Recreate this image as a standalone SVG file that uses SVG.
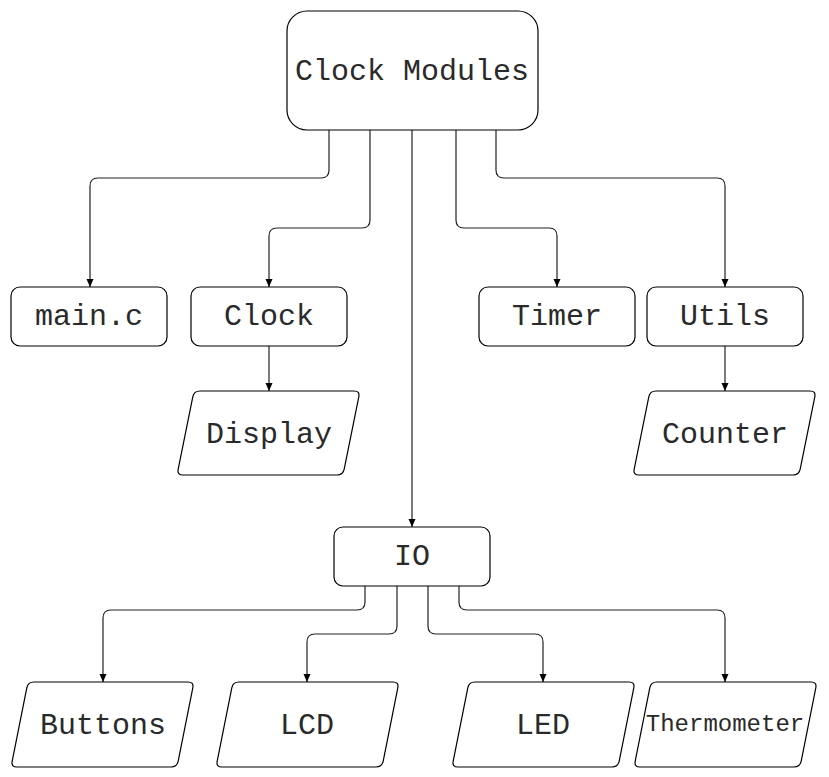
<svg xmlns="http://www.w3.org/2000/svg" width="829" height="777" viewBox="0 0 829 777">
<style>
.box{fill:#fff;stroke:#000;stroke-width:1.2}
.t{font-family:"Liberation Mono","Courier New",monospace;font-size:30px;fill:#2a2a2a;text-anchor:middle}
.s{font-size:24px}
.c{fill:none;stroke:#222;stroke-width:1.2}
</style>
<defs>
<marker id="ah" markerUnits="userSpaceOnUse" markerWidth="8" markerHeight="8" refX="8" refY="4" orient="auto">
<path d="M0,0.5 L8,4 L0,7.5 z" fill="#000"/>
</marker>
</defs>
<rect width="829" height="777" fill="#fff"/>
<g id="connectors">
<path class="c" marker-end="url(#ah)" d="M329,130 L329,170 Q329,178 321,178 L98,178 Q90,178 90,186 L90,287"/>
<path class="c" marker-end="url(#ah)" d="M370,130 L370,220 Q370,228 362,228 L277,228 Q269,228 269,236 L269,287"/>
<path class="c" marker-end="url(#ah)" d="M412,130 L412,527"/>
<path class="c" marker-end="url(#ah)" d="M456,130 L456,220 Q456,228 464,228 L549,228 Q557,228 557,236 L557,287"/>
<path class="c" marker-end="url(#ah)" d="M496,130 L496,170 Q496,178 504,178 L717,178 Q725,178 725,186 L725,287"/>
<path class="c" marker-end="url(#ah)" d="M269,346 L269,391"/>
<path class="c" marker-end="url(#ah)" d="M725,346 L725,391"/>
<path class="c" marker-end="url(#ah)" d="M365,586 L365,602 Q365,610 357,610 L111,610 Q103,610 103,618 L103,682"/>
<path class="c" marker-end="url(#ah)" d="M397,586 L397,626 Q397,634 389,634 L315,634 Q307,634 307,642 L307,682"/>
<path class="c" marker-end="url(#ah)" d="M428,586 L428,626 Q428,634 436,634 L535,634 Q543,634 543,642 L543,682"/>
<path class="c" marker-end="url(#ah)" d="M459,586 L459,602 Q459,610 467,610 L717,610 Q725,610 725,618 L725,682"/>
</g>
<g id="clock-modules">
<rect class="box" x="287" y="11" width="251" height="119" rx="20"/>
<text class="t" x="412" y="80">Clock Modules</text>
</g>
<g id="main-c">
<rect class="box" x="11" y="287" width="156" height="59" rx="9"/>
<text class="t" x="89" y="325">main.c</text>
</g>
<g id="clock">
<rect class="box" x="191" y="287" width="156" height="59" rx="9"/>
<text class="t" x="269" y="325">Clock</text>
</g>
<g id="timer">
<rect class="box" x="479" y="287" width="156" height="59" rx="9"/>
<text class="t" x="557" y="325">Timer</text>
</g>
<g id="utils">
<rect class="box" x="647" y="287" width="156" height="59" rx="9"/>
<text class="t" x="725" y="325">Utils</text>
</g>
<g id="display">
<path class="box" d="M200,391 L354,391 Q360,391 358.8,396.9 L344.2,469.1 Q343,475 337,475 L183,475 Q177,475 178.2,469.1 L192.8,396.9 Q194,391 200,391 Z"/>
<text class="t" x="269" y="443">Display</text>
</g>
<g id="counter">
<path class="box" d="M656,391 L810,391 Q816,391 814.8,396.9 L800.2,469.1 Q799,475 793,475 L639,475 Q633,475 634.2,469.1 L648.8,396.9 Q650,391 656,391 Z"/>
<text class="t" x="725" y="443">Counter</text>
</g>
<g id="io">
<rect class="box" x="334" y="527" width="156" height="59" rx="9"/>
<text class="t" x="412" y="565">IO</text>
</g>
<g id="buttons">
<path class="box" d="M34,682 L188,682 Q194,682 192.8,687.9 L178.2,761.1 Q177,767 171,767 L17,767 Q11,767 12.2,761.1 L26.8,687.9 Q28,682 34,682 Z"/>
<text class="t" x="103" y="734">Buttons</text>
</g>
<g id="lcd">
<path class="box" d="M239,682 L393,682 Q399,682 397.8,687.9 L383.2,761.1 Q382,767 376,767 L222,767 Q216,767 217.2,761.1 L231.8,687.9 Q233,682 239,682 Z"/>
<text class="t" x="307" y="734">LCD</text>
</g>
<g id="led">
<path class="box" d="M475,682 L629,682 Q635,682 633.8,687.9 L619.2,761.1 Q618,767 612,767 L458,767 Q452,767 453.2,761.1 L467.8,687.9 Q469,682 475,682 Z"/>
<text class="t" x="543" y="734">LED</text>
</g>
<g id="thermometer">
<path class="box" d="M657,682 L811,682 Q817,682 815.8,687.9 L801.2,761.1 Q800,767 794,767 L640,767 Q634,767 635.2,761.1 L649.8,687.9 Q651,682 657,682 Z"/>
<text class="t s" x="725" y="731">Thermometer</text>
</g>
</svg>
